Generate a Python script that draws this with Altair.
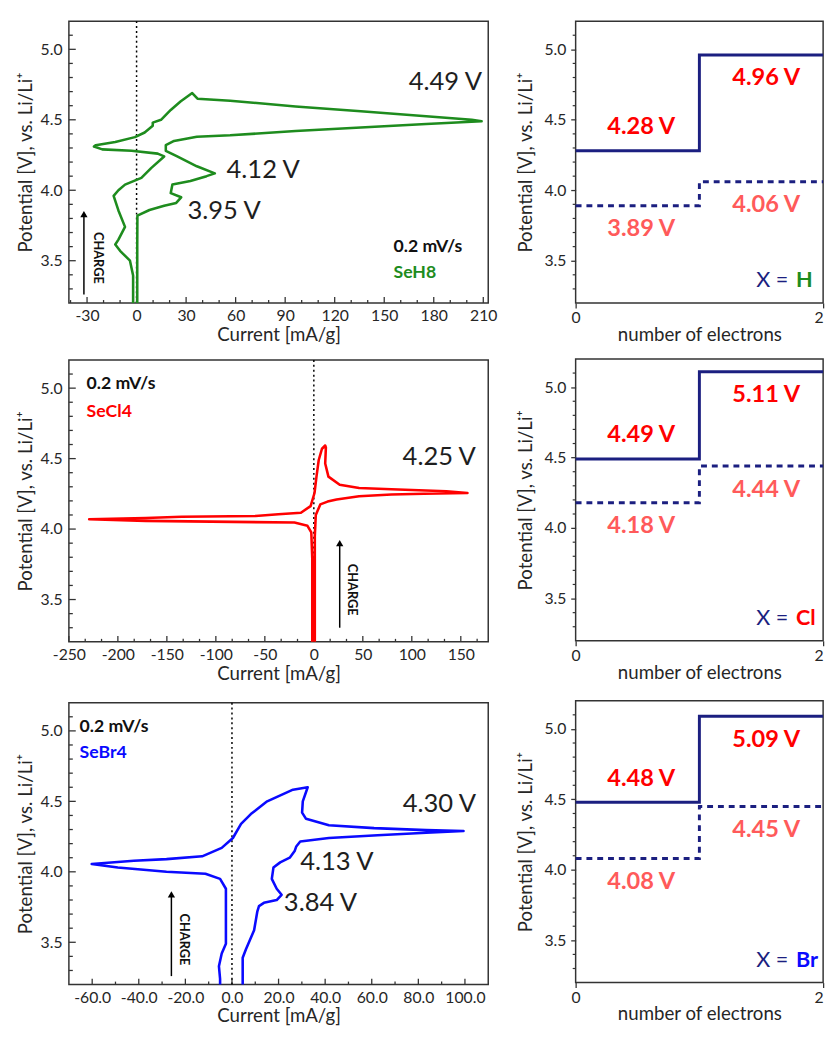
import altair as alt
import numpy as np
import pandas as pd

FONT = "Lato"
INK = "#262626"
FRAME = "#333333"
NAVY = "#1b1f80"
RED = "#ff0000"
SALMON = "#ff5a5a"
GREEN = "#1e8c1e"
BLUE = "#0a0aff"

# ---------------- data: cyclic voltammograms (current mA/g, potential V) -------------
seh8_current = [0.4, 0.4, 0.5, 7.8, 16.7, 24.0, 27.0, 20.7, 21.7, 32.6, 42.4, 47.4,
                36.5, 24.6, 17.7, 17.7, 22.7, 36.5, 56.7, 96.3, 135.8, 175.4, 209.0,
                203.0, 175.4, 135.8, 96.3, 56.7, 36.9, 33.7, 26.6, 20.7, 14.8, 9.8,
                9.8, 4.9, -1.0, -12.9, -24.8, -25.8, -20.8, -3.0, 12.8, 16.7, 8.8, 2.9,
                -7.0, -11.0, -13.9, -11.0, -7.0, -11.0, -12.9, -10.0, -4.0, -2.1, -2.1]
seh8_potential = [3.20, 3.60, 3.82, 3.86, 3.89, 3.91, 3.95, 3.98, 4.04, 4.065, 4.10, 4.12,
                  4.17, 4.24, 4.28, 4.32, 4.35, 4.38, 4.39, 4.42, 4.445, 4.47, 4.49,
                  4.50, 4.525, 4.56, 4.595, 4.635, 4.65, 4.69, 4.63, 4.57, 4.50, 4.48,
                  4.457, 4.41, 4.377, 4.342, 4.32, 4.31, 4.29, 4.28, 4.26, 4.24, 4.157, 4.088,
                  4.04, 4.00, 3.96, 3.857, 3.74, 3.65, 3.615, 3.57, 3.50, 3.395, 3.20]

secl4_current = [1.0, 1.0, 2.0, 6.6, 14.0, 23.2, 46.2, 79.2, 112.3, 156.8, 135.3, 79.2,
                 46.2, 26.4, 14.9, 11.6, 12.3, 11.6, 8.3, 5.0, 2.7, 0.7, -3.3, -13.2,
                 -36.2, -59.4, -135.0, -171.6, -229.3, -171.6, -82.5, -19.8, -6.5, -2.6,
                 -1.6, -1.6]
secl4_potential = [3.20, 3.95, 4.10, 4.175, 4.195, 4.21, 4.233, 4.245, 4.25, 4.256, 4.268,
                   4.282, 4.291, 4.314, 4.372, 4.465, 4.58, 4.593, 4.57, 4.49, 4.372, 4.256,
                   4.163, 4.116, 4.105, 4.093, 4.088, 4.079, 4.07, 4.058, 4.051, 4.046,
                   4.023, 3.977, 3.79, 3.20]

sebr4_current = [4.6, 4.6, 6.0, 9.5, 10.9, 11.6, 13.7, 19.2, 21.3, 19.2, 17.1, 17.8, 20.7,
                 24.8, 26.9, 27.6, 29.3, 41.6, 62.5, 83.4, 99.4, 83.4, 61.0, 41.6, 31.8,
                 30.1, 30.4, 32.5, 26.2, 15.1, 8.1, 3.9, 0.4, -4.4, -12.8, -28.1, -42.1,
                 -60.2, -49.0, -28.1, -11.4, -5.1, -2.6, -2.6, -4.4, -5.6, -5.1, -5.1]
sebr4_potential = [3.20, 3.39, 3.45, 3.585, 3.72, 3.757, 3.78, 3.80, 3.837, 3.88, 3.95,
                   4.03, 4.067, 4.10, 4.147, 4.18, 4.215, 4.24, 4.26, 4.277, 4.29, 4.296,
                   4.31, 4.33, 4.376, 4.42, 4.50, 4.60, 4.583, 4.50, 4.41, 4.34, 4.24,
                   4.17, 4.11, 4.09, 4.078, 4.055, 4.03, 4.00, 3.986, 3.95, 3.88, 3.49,
                   3.42, 3.33, 3.24, 3.20]

# ---------------- data: step diagrams -------------
electrons = [0, 1, 2]
seh8_solid = [4.28, 4.96]
seh8_dashed = [3.89, 4.06]
secl4_solid = [4.49, 5.11]
secl4_dashed = [4.18, 4.44]
sebr4_solid = [4.48, 5.09]
sebr4_dashed = [4.08, 4.45]

# ---------------- axes -------------
Y_DOMAIN = [3.2, 5.2]
Y_MAJOR = [3.5, 4.0, 4.5, 5.0]
Y_MINOR = [round(v, 1) for v in np.arange(3.3, 5.15, 0.1) if round(v, 1) not in Y_MAJOR]
YTITLE = "Potential [V], vs. Li/Li\u207a"
HYPHEN = "replace(datum.label, '\u2212', '-')"

WL, WR, H = 427, 252, 287
PX_V = (Y_DOMAIN[1] - Y_DOMAIN[0]) / H   # volts per pixel


def minor_vals(start, stop, step, major, dom):
    out = []
    k = 0
    while start + k * step <= stop + 1e-9:
        v = round(start + k * step, 4)
        if dom[0] < v < dom[1] and all(abs(v - m) > 1e-6 for m in major):
            out.append(v)
        k += 1
    return out


def cv_panel(cur, pot, color, name, xdom, xmajor, xminor, xfmt,
             rate_xy, peaks, arrow, charge_xy):
    xs = alt.X("i:Q", scale=alt.Scale(domain=xdom, nice=False, zero=False),
               axis=alt.Axis(values=xmajor, format=xfmt, title="Current [mA/g]",
                             labelExpr=HYPHEN,
                             ticks=False, labelPadding=5, titlePadding=2, labelFlush=False))
    ys = alt.Y("v:Q", scale=alt.Scale(domain=Y_DOMAIN, nice=False, zero=False),
               axis=alt.Axis(values=Y_MAJOR, format=".1f", title=YTITLE, ticks=False,
                             labelPadding=7, titlePadding=5))
    px_i = (xdom[1] - xdom[0]) / WL
    layers = []
    # inward tick marks (drawn through the scales)
    for vals, ln in ((xmajor, 6), (xminor, 3)):
        t = pd.DataFrame({"i": vals, "v": [Y_DOMAIN[0]] * len(vals),
                          "v2": [Y_DOMAIN[0] + ln * PX_V] * len(vals)})
        layers.append(alt.Chart(t).mark_rule(color=FRAME, strokeWidth=1.3)
                      .encode(x=xs, y=ys, y2="v2:Q"))
    for vals, ln in ((Y_MAJOR, 7), (Y_MINOR, 4)):
        t = pd.DataFrame({"v": vals, "i": [xdom[0]] * len(vals),
                          "i2": [xdom[0] + ln * px_i] * len(vals)})
        layers.append(alt.Chart(t).mark_rule(color=FRAME, strokeWidth=1.3)
                      .encode(y=ys, x=xs, x2="i2:Q"))
    # zero line
    layers.append(alt.Chart(pd.DataFrame({"i": [0]})).mark_rule(
        color="black", strokeDash=[2, 3], strokeWidth=1.5).encode(x=xs))
    # curve
    df = pd.DataFrame({"i": cur, "v": pot, "k": list(range(len(cur)))})
    layers.append(alt.Chart(df).mark_line(color=color, strokeWidth=2.6, strokeJoin="round")
                  .encode(x=xs, y=ys, order="k:Q"))
    # charge arrow
    ax, y0, y1 = arrow
    layers.append(alt.Chart(pd.DataFrame({"i": [ax], "v": [y0], "v2": [y1]}))
                  .mark_rule(color="black", strokeWidth=1.5)
                  .encode(x=xs, y=ys, y2="v2:Q"))
    layers.append(alt.Chart(pd.DataFrame({"i": [ax], "v": [y1]}))
                  .mark_point(shape="triangle-up", filled=True, size=55, color="black", opacity=1)
                  .encode(x=xs, y=ys))
    layers.append(alt.Chart(pd.DataFrame({"i": [charge_xy[0]], "v": [charge_xy[1]], "t": ["CHARGE"]}))
                  .mark_text(font=FONT, fontSize=13, fontWeight="bold", angle=90,
                             align="center", baseline="middle", color="#111")
                  .encode(x=xs, y=ys, text="t:N"))
    # peak labels
    pk = pd.DataFrame({"i": [p[1] for p in peaks], "v": [p[2] for p in peaks],
                       "t": [p[0] for p in peaks]})
    layers.append(alt.Chart(pk).mark_text(font=FONT, fontSize=26, color="#1e1e1e",
                                          align="center", baseline="middle")
                  .encode(x=xs, y=ys, text="t:N"))
    # scan rate and compound
    rx, ry1, ry2 = rate_xy
    layers.append(alt.Chart(pd.DataFrame({"i": [rx], "v": [ry1], "t": ["0.2 mV/s"]}))
                  .mark_text(font=FONT, fontSize=18, fontWeight="bold", color="#111",
                             align="left", baseline="middle")
                  .encode(x=xs, y=ys, text="t:N"))
    layers.append(alt.Chart(pd.DataFrame({"i": [rx], "v": [ry2], "t": [name]}))
                  .mark_text(font=FONT, fontSize=18, fontWeight="bold", color=color,
                             align="left", baseline="middle")
                  .encode(x=xs, y=ys, text="t:N"))
    return alt.layer(*layers).properties(width=WL, height=H)


def step_panel(solid, dashed, elem, elem_color):
    xs = alt.X("n:Q", scale=alt.Scale(domain=[0, 2], nice=False, zero=False),
               axis=alt.Axis(values=electrons, format="d", title="number of electrons",
                             tickSize=5, labelPadding=2, titlePadding=0, labelFlush=False,
                             labelAlign={"condition": {"test": "datum.value == 2", "value": "right"},
                                         "value": "center"}))
    ys = alt.Y("v:Q", scale=alt.Scale(domain=Y_DOMAIN, nice=False, zero=False),
               axis=alt.Axis(values=Y_MAJOR, format=".1f", title=YTITLE, tickSize=5,
                             labelPadding=5, titlePadding=9))
    layers = []
    px_n = 2.0 / WR
    t = pd.DataFrame({"v": Y_MINOR, "n": [0.0] * len(Y_MINOR), "n2": [-3 * px_n] * len(Y_MINOR)})
    layers.append(alt.Chart(t).mark_rule(color=FRAME, strokeWidth=1.2)
                  .encode(y=ys, x=xs, x2="n2:Q"))
    sdf = pd.DataFrame({"n": electrons, "v": solid + [solid[-1]]})
    ddf = pd.DataFrame({"n": electrons, "v": dashed + [dashed[-1]]})
    layers.append(alt.Chart(sdf).mark_line(interpolate="step-after", color=NAVY, strokeWidth=3)
                  .encode(x=xs, y=ys))
    layers.append(alt.Chart(ddf).mark_line(interpolate="step-after", color=NAVY, strokeWidth=3,
                                           strokeDash=[6, 5])
                  .encode(x=xs, y=ys))
    lx = [0.53, 1.54]
    above = pd.DataFrame({"n": lx[:1], "v": solid[:1], "t": [f"{solid[0]:.2f} V"]})
    below = pd.DataFrame({"n": lx[1:], "v": solid[1:], "t": [f"{solid[1]:.2f} V"]})
    dlab = pd.DataFrame({"n": lx, "v": dashed, "t": [f"{d:.2f} V" for d in dashed]})
    layers.append(alt.Chart(above).mark_text(font=FONT, fontSize=24, fontWeight="bold", color=RED,
                                             dy=-24, align="center", baseline="middle")
                  .encode(x=xs, y=ys, text="t:N"))
    layers.append(alt.Chart(below).mark_text(font=FONT, fontSize=24, fontWeight="bold", color=RED,
                                             dy=24, align="center", baseline="middle")
                  .encode(x=xs, y=ys, text="t:N"))
    layers.append(alt.Chart(dlab).mark_text(font=FONT, fontSize=24, fontWeight="bold", color=SALMON,
                                            dy=24, align="center", baseline="middle")
                  .encode(x=xs, y=ys, text="t:N"))
    layers.append(alt.Chart(pd.DataFrame({"n": [1.46], "v": [3.36], "t": ["X ="]}))
                  .mark_text(font=FONT, fontSize=22, color=NAVY, align="left", baseline="middle")
                  .encode(x=xs, y=ys, text="t:N"))
    layers.append(alt.Chart(pd.DataFrame({"n": [1.78], "v": [3.36], "t": [elem]}))
                  .mark_text(font=FONT, fontSize=22, fontWeight="bold", color=elem_color,
                             align="left", baseline="middle")
                  .encode(x=xs, y=ys, text="t:N"))
    return alt.layer(*layers).properties(width=WR, height=H)


# panel 1: SeH8
d1 = [-41, 213]
m1 = [-30, 0, 30, 60, 90, 120, 150, 180, 210]
p1 = cv_panel(seh8_current, seh8_potential, GREEN, "SeH8", d1, m1,
              minor_vals(-40, 210, 10, m1, d1), "d",
              (155.6, 3.60, 3.41),
              [("4.49 V", 187, 4.77), ("4.12 V", 76.7, 4.14), ("3.95 V", 53, 3.85)],
              (-31.9, 3.26, 3.83), (-23.6, 3.52))

# panel 2: SeCl4
d2 = [-250, 178]
m2 = [-250, -200, -150, -100, -50, 0, 50, 100, 150]
p2 = cv_panel(secl4_current, secl4_potential, RED, "SeCl4", d2, m2,
              minor_vals(-250, 178, 50 / 3, m2, d2), "d",
              (-232, 5.03, 4.83),
              [("4.25 V", 128, 4.51)],
              (26.4, 3.30, 3.90), (39, 3.57))

# panel 3: SeBr4
d3 = [-70, 110]
m3 = [-60, -40, -20, 0, 20, 40, 60, 80, 100]
p3 = cv_panel(sebr4_current, sebr4_potential, BLUE, "SeBr4", d3, m3,
              minor_vals(-70, 110, 10, m3, d3), ".1f",
              (-65.4, 5.03, 4.84),
              [("4.30 V", 89, 4.48), ("4.13 V", 45, 4.07), ("3.84 V", 38, 3.78)],
              (-26, 3.26, 3.84), (-20.6, 3.52))

s1 = step_panel(seh8_solid, seh8_dashed, "H", GREEN)
s2 = step_panel(secl4_solid, secl4_dashed, "Cl", RED)
s3 = step_panel(sebr4_solid, sebr4_dashed, "Br", BLUE)

left_col = alt.vconcat(alt.vconcat(p1, p2, spacing=13), p3, spacing=17)
right_col = alt.vconcat(alt.vconcat(s1, s2, spacing=13), s3, spacing=17)

chart = (
    alt.hconcat(left_col, right_col, spacing=17)
    .properties(padding={"left": 7, "top": 2, "right": 0, "bottom": 0}, background="white")
    .configure_view(stroke=FRAME, strokeWidth=1.5)
    .configure_axis(labelFont=FONT, titleFont=FONT, labelFontSize=16, titleFontSize=19,
                    labelColor=INK, titleColor=INK, titleFontWeight="normal",
                    domain=False, grid=False, tickColor=FRAME, tickWidth=1.3)
    .configure_text(font=FONT)
)

chart.save("out.html", embed_options={"renderer": "svg", "actions": False})
